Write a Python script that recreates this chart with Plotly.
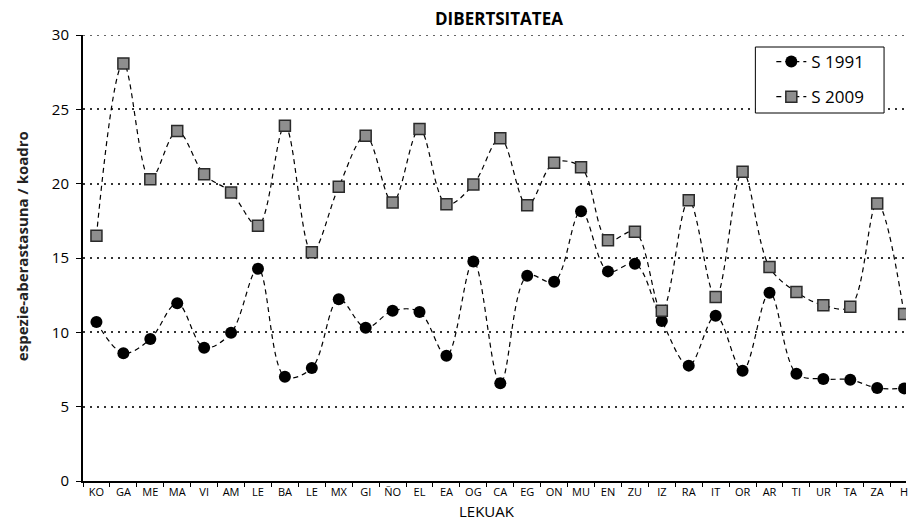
import plotly.graph_objects as go

# Sampling sites (x-axis categories)
sites = ["KO", "GA", "ME", "MA", "VI", "AM", "LE", "BA", "LE", "MX", "GI", "ÑO",
         "EL", "EA", "OG", "CA", "EG", "ON", "MU", "EN", "ZU", "IZ", "RA", "IT",
         "OR", "AR", "TI", "UR", "TA", "ZA", "H"]

# Species richness per quadrat
s_1991 = [10.7, 8.6, 9.55, 11.95, 8.97, 9.97, 14.28, 7.02, 7.6, 12.22, 10.31, 11.45,
          11.37, 8.43, 14.77, 6.57, 13.81, 13.4, 18.14, 14.1, 14.62, 10.76, 7.76, 11.12,
          7.42, 12.66, 7.22, 6.86, 6.81, 6.25, 6.23]
s_2009 = [16.5, 28.09, 20.29, 23.54, 20.63, 19.41, 17.17, 23.89, 15.38, 19.79, 23.22, 18.74,
          23.67, 18.61, 19.95, 23.05, 18.54, 21.41, 21.1, 16.19, 16.77, 11.45, 18.88, 12.37,
          20.8, 14.39, 12.71, 11.82, 11.72, 18.67, 11.23]

pos = list(range(len(sites)))
FONT = "Open Sans"
GRID = dict(color="#333333", width=1.5, dash="2px,5px")

# plot-area pixel geometry
L, R, T, B = 83, 908, 35, 481
PW, PH = R - L, B - T


def px(x):
    return (x - L) / PW


def py(y):
    return (B - y) / PH


fig = go.Figure()
fig.add_trace(go.Scatter(
    x=pos, y=s_1991, name="S 1991", mode="lines+markers", legendgroup="a",
    line=dict(color="black", width=1.2, dash="5px,4px", shape="spline", smoothing=1),
    marker=dict(symbol="circle", size=12, color="black"),
))
fig.add_trace(go.Scatter(
    x=pos, y=s_2009, name="S 2009", mode="lines+markers", legendgroup="b",
    line=dict(color="black", width=1.2, dash="5px,4px", shape="spline", smoothing=1),
    marker=dict(symbol="square", size=11, color="#8e8e8e",
                line=dict(color="#2a2a2a", width=1.5)),
))

fig.update_layout(
    width=908, height=520,
    margin=dict(l=L, r=908 - R, t=T, b=520 - B),
    paper_bgcolor="white", plot_bgcolor="white",
    font=dict(family=FONT, color="black"),
    showlegend=True,
    legend=dict(
        x=px(773), y=py(44), xanchor="left", yanchor="top",
        bgcolor="rgba(0,0,0,0)", borderwidth=0,
        font=dict(size=17, family=FONT), tracegroupgap=10,
        itemwidth=30,
    ),
    xaxis=dict(
        range=[-0.5, 30.07], tickmode="array", tickvals=pos, ticktext=sites,
        showgrid=False, zeroline=False,
        showline=True, linecolor="black", linewidth=2,
        ticks="", ticklabeloverflow="allow",
        tickfont=dict(size=11, family=FONT),
        minor=dict(ticks="outside", tick0=-0.5, dtick=1, ticklen=4,
                   tickcolor="black", tickwidth=1, showgrid=False),
    ),
    yaxis=dict(
        range=[0, 30], dtick=5, tickmode="linear", tick0=0,
        showgrid=True, gridcolor=GRID["color"], gridwidth=GRID["width"],
        griddash=GRID["dash"],
        zeroline=False, showline=True, linecolor="black", linewidth=2,
        ticks="outside", ticklen=5, tickcolor="black", tickwidth=1,
        ticklabelstandoff=4,
        tickfont=dict(size=15, family=FONT),
    ),
)

# dotted line along the top of the plot area (y = 30)
fig.add_shape(type="line", xref="paper", yref="y", x0=0, x1=1, y0=30, y1=30,
              line=GRID, layer="below")

# legend frame
fig.add_shape(type="rect", xref="paper", yref="paper",
              x0=px(757), x1=px(886), y0=py(113), y1=py(47),
              line=dict(color="black", width=1), fillcolor="white", layer="above")

fig.add_annotation(text="<b>DIBERTSITATEA</b>", xref="paper", yref="paper",
                   x=px(500), y=py(18), xanchor="center",
                   yanchor="middle", showarrow=False, font=dict(size=17, family=FONT))
fig.add_annotation(text="LEKUAK", xref="paper", yref="paper",
                   x=px(488), y=py(511), xanchor="center",
                   yanchor="middle", showarrow=False, font=dict(size=15, family=FONT))
fig.add_annotation(text="<b>espezie-aberastasuna / koadro</b>", xref="paper", yref="paper",
                   x=px(22), y=py(246), xanchor="center",
                   yanchor="middle", textangle=-90, showarrow=False,
                   font=dict(size=15, family=FONT, color="#222222"))

fig.write_html("out.html", config={"displayModeBar": False})
